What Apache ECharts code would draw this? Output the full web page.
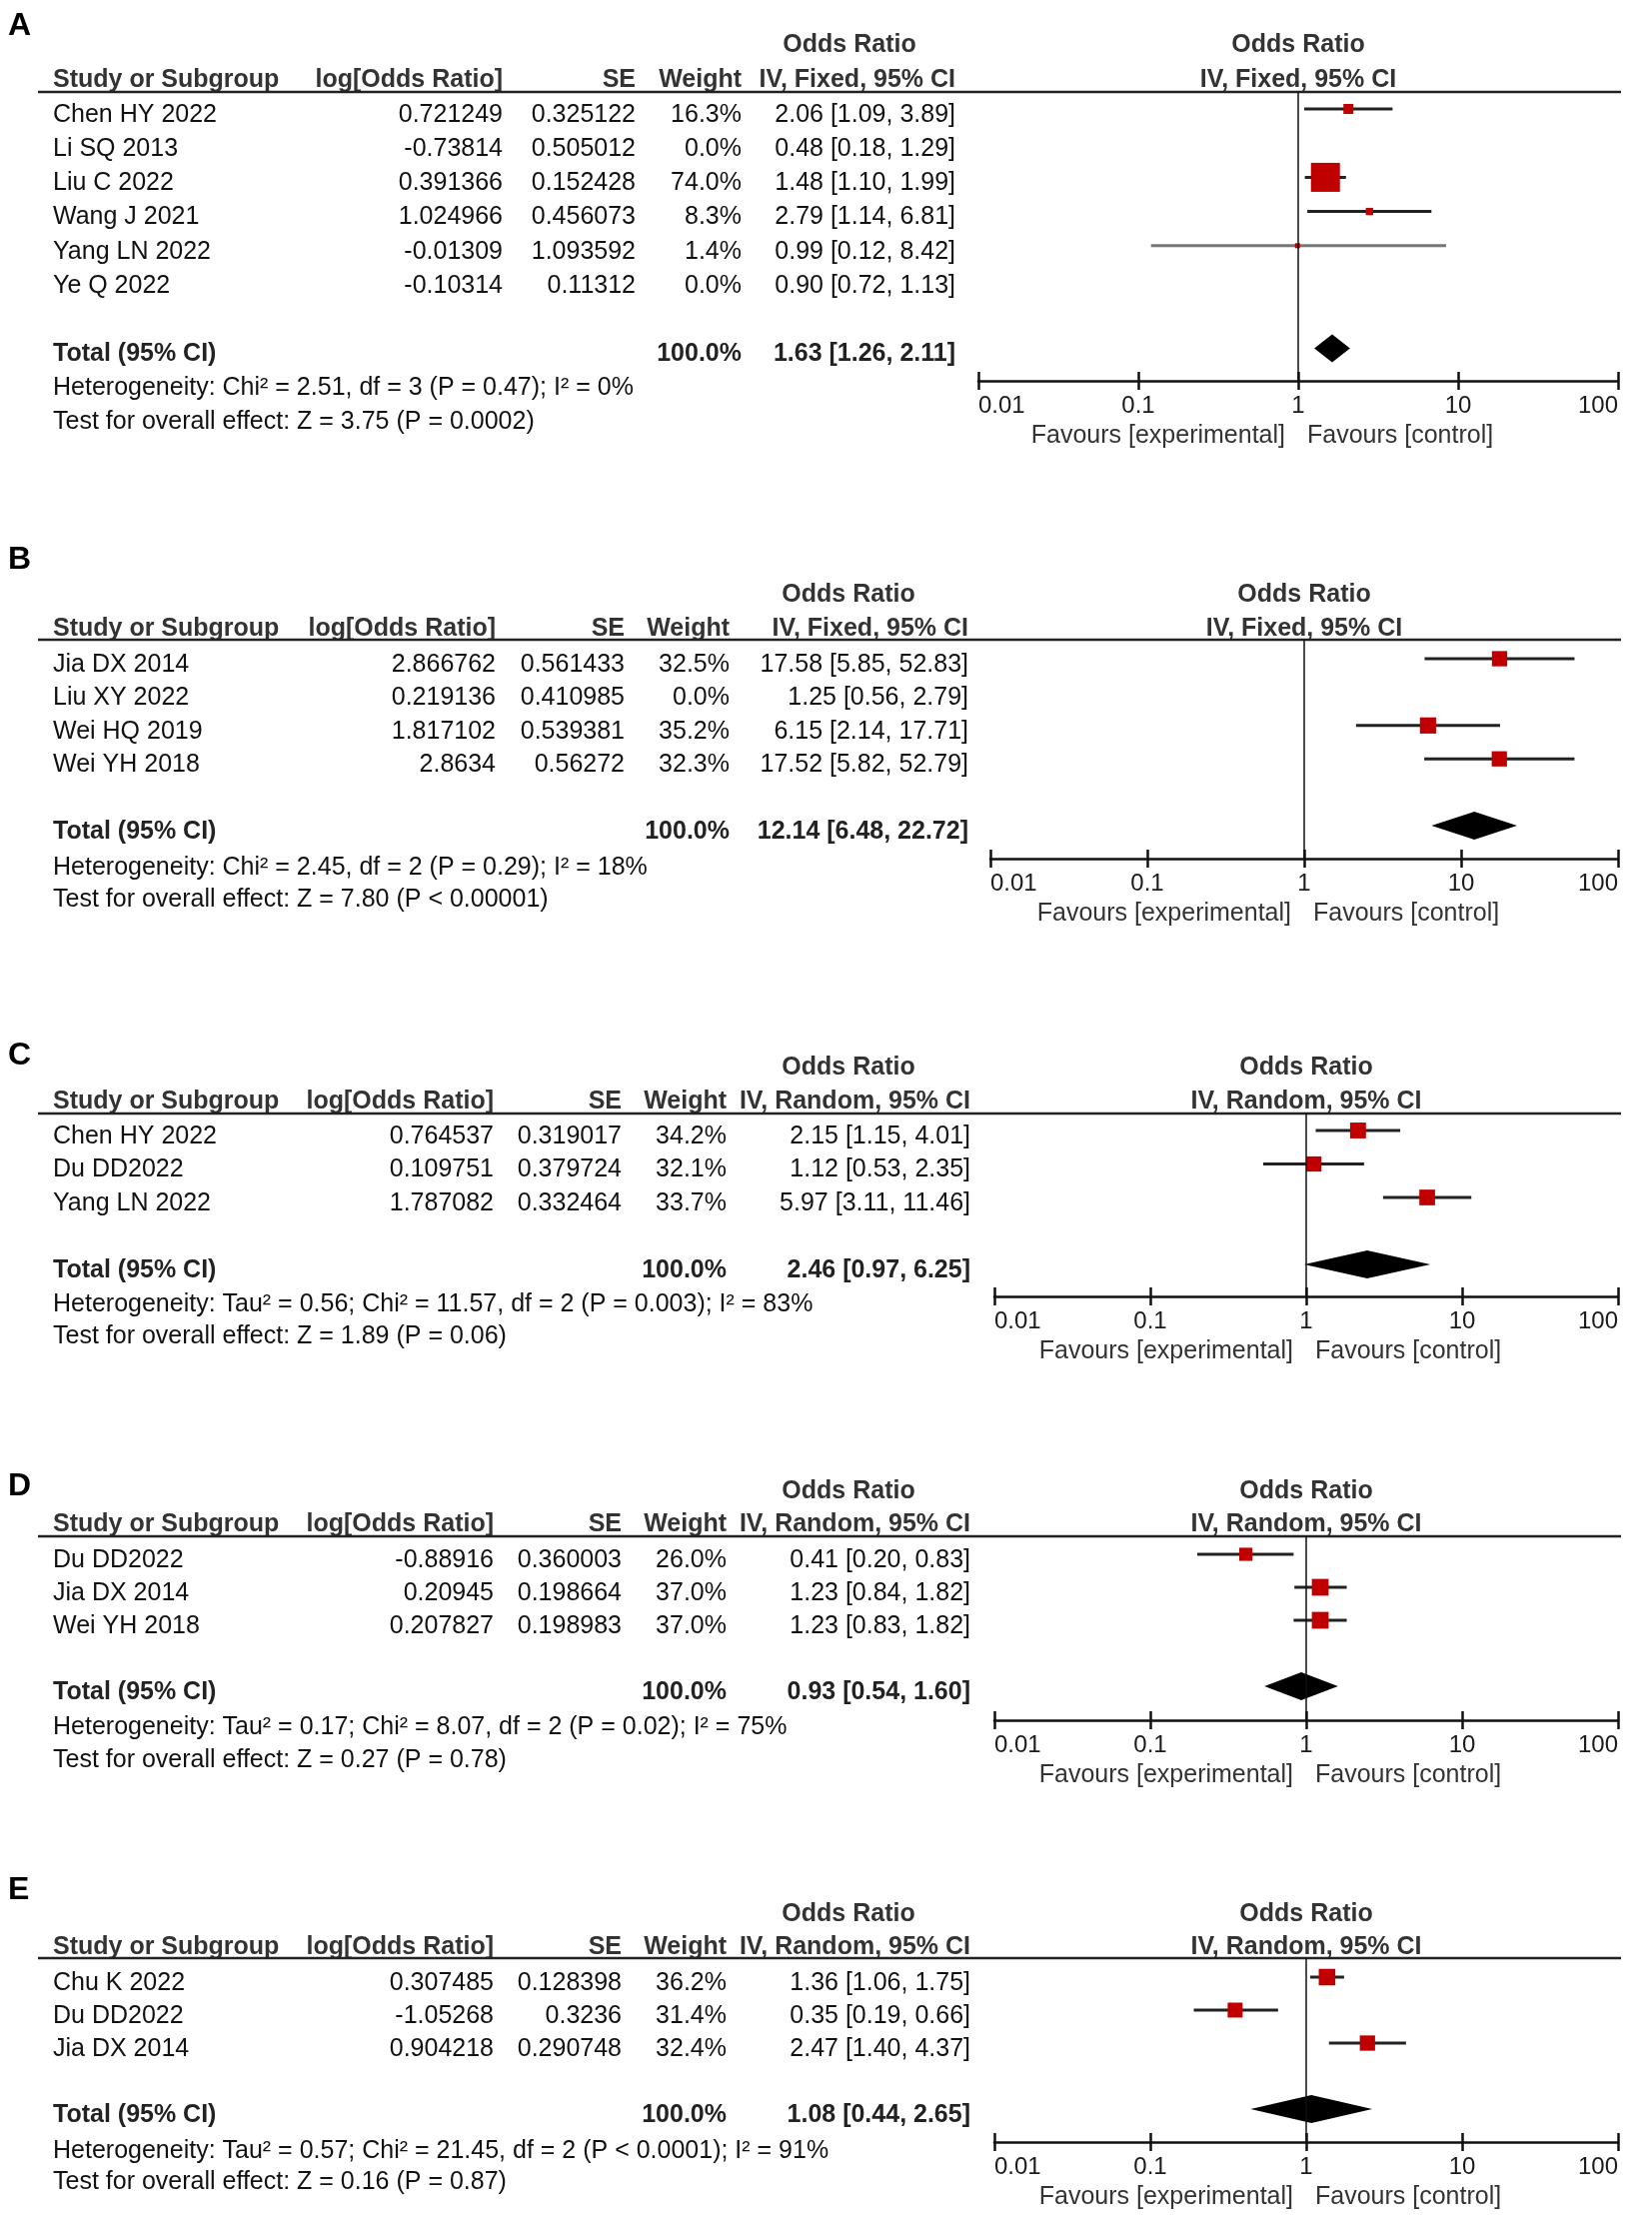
<!DOCTYPE html>
<html><head><meta charset="utf-8">
<script src="https://cdn.jsdelivr.net/npm/echarts/dist/echarts.min.js"></script>
<style>html,body{margin:0;padding:0;background:#fff}#c{width:1653px;height:2229px}</style>
</head><body><div id="c"></div><script>
// ---------------- DATA ----------------
const tickLabels = ['0.01', '0.1', '1', '10', '100'];
const panelLetters = ['A', 'B', 'C', 'D', 'E'];
const methods = ['IV, Fixed, 95% CI', 'IV, Fixed, 95% CI', 'IV, Random, 95% CI', 'IV, Random, 95% CI', 'IV, Random, 95% CI'];

const studiesA = ['Chen HY 2022', 'Li SQ 2013', 'Liu C 2022', 'Wang J 2021', 'Yang LN 2022', 'Ye Q 2022'];
const logOrA = ['0.721249', '-0.73814', '0.391366', '1.024966', '-0.01309', '-0.10314'];
const seA = ['0.325122', '0.505012', '0.152428', '0.456073', '1.093592', '0.11312'];
const weightA = [16.3, 0.0, 74.0, 8.3, 1.4, 0.0];
const orA = [2.06, 0.48, 1.48, 2.79, 0.99, 0.90];
const lowA = [1.09, 0.18, 1.10, 1.14, 0.12, 0.72];
const highA = [3.89, 1.29, 1.99, 6.81, 8.42, 1.13];
const totalA = [1.63, 1.26, 2.11];
const hetA = 'Heterogeneity: Chi\u00b2 = 2.51, df = 3 (P = 0.47); I\u00b2 = 0%';
const testA = 'Test for overall effect: Z = 3.75 (P = 0.0002)';

const studiesB = ['Jia DX 2014', 'Liu XY 2022', 'Wei HQ 2019', 'Wei YH 2018'];
const logOrB = ['2.866762', '0.219136', '1.817102', '2.8634'];
const seB = ['0.561433', '0.410985', '0.539381', '0.56272'];
const weightB = [32.5, 0.0, 35.2, 32.3];
const orB = [17.58, 1.25, 6.15, 17.52];
const lowB = [5.85, 0.56, 2.14, 5.82];
const highB = [52.83, 2.79, 17.71, 52.79];
const totalB = [12.14, 6.48, 22.72];
const hetB = 'Heterogeneity: Chi\u00b2 = 2.45, df = 2 (P = 0.29); I\u00b2 = 18%';
const testB = 'Test for overall effect: Z = 7.80 (P < 0.00001)';

const studiesC = ['Chen HY 2022', 'Du DD2022', 'Yang LN 2022'];
const logOrC = ['0.764537', '0.109751', '1.787082'];
const seC = ['0.319017', '0.379724', '0.332464'];
const weightC = [34.2, 32.1, 33.7];
const orC = [2.15, 1.12, 5.97];
const lowC = [1.15, 0.53, 3.11];
const highC = [4.01, 2.35, 11.46];
const totalC = [2.46, 0.97, 6.25];
const hetC = 'Heterogeneity: Tau\u00b2 = 0.56; Chi\u00b2 = 11.57, df = 2 (P = 0.003); I\u00b2 = 83%';
const testC = 'Test for overall effect: Z = 1.89 (P = 0.06)';

const studiesD = ['Du DD2022', 'Jia DX 2014', 'Wei YH 2018'];
const logOrD = ['-0.88916', '0.20945', '0.207827'];
const seD = ['0.360003', '0.198664', '0.198983'];
const weightD = [26.0, 37.0, 37.0];
const orD = [0.41, 1.23, 1.23];
const lowD = [0.20, 0.84, 0.83];
const highD = [0.83, 1.82, 1.82];
const totalD = [0.93, 0.54, 1.60];
const hetD = 'Heterogeneity: Tau\u00b2 = 0.17; Chi\u00b2 = 8.07, df = 2 (P = 0.02); I\u00b2 = 75%';
const testD = 'Test for overall effect: Z = 0.27 (P = 0.78)';

const studiesE = ['Chu K 2022', 'Du DD2022', 'Jia DX 2014'];
const logOrE = ['0.307485', '-1.05268', '0.904218'];
const seE = ['0.128398', '0.3236', '0.290748'];
const weightE = [36.2, 31.4, 32.4];
const orE = [1.36, 0.35, 2.47];
const lowE = [1.06, 0.19, 1.40];
const highE = [1.75, 0.66, 4.37];
const totalE = [1.08, 0.44, 2.65];
const hetE = 'Heterogeneity: Tau\u00b2 = 0.57; Chi\u00b2 = 21.45, df = 2 (P < 0.0001); I\u00b2 = 91%';
const testE = 'Test for overall effect: Z = 0.16 (P = 0.87)';

// ---------------- LAYOUT (pixels) ----------------
const layout = [
  {letterY: 26,   orY: 45,   hdrY: 80,   lineY: 92,   row0: 115,  step: 34.2, hetY: 388,  testY: 422,  axisY: 381,  ax0: 979, ax1: 1619, cLog: 503, cSe: 636, cW: 742, cCi: 956, orX: 850},
  {letterY: 560,  orY: 595,  hdrY: 629,  lineY: 640,  row0: 665,  step: 33.4, hetY: 868,  testY: 900,  axisY: 859,  ax0: 991, ax1: 1619, cLog: 496, cSe: 625, cW: 730, cCi: 969, orX: 849},
  {letterY: 1056, orY: 1068, hdrY: 1102, lineY: 1114, row0: 1137, step: 33.5, hetY: 1305, testY: 1337, axisY: 1297, ax0: 995, ax1: 1619, cLog: 494, cSe: 622, cW: 727, cCi: 971, orX: 849},
  {letterY: 1487, orY: 1492, hdrY: 1525, lineY: 1537, row0: 1561, step: 33,   hetY: 1728, testY: 1761, axisY: 1721, ax0: 995, ax1: 1619, cLog: 494, cSe: 622, cW: 727, cCi: 971, orX: 849},
  {letterY: 1891, orY: 1915, hdrY: 1948, lineY: 1959, row0: 1984, step: 33,   hetY: 2152, testY: 2183, axisY: 2143, ax0: 995, ax1: 1619, cLog: 494, cSe: 622, cW: 727, cCi: 971, orX: 849}
];

const panels = [
  {studies: studiesA, logOr: logOrA, se: seA, weight: weightA, or: orA, low: lowA, high: highA, total: totalA, het: hetA, test: testA},
  {studies: studiesB, logOr: logOrB, se: seB, weight: weightB, or: orB, low: lowB, high: highB, total: totalB, het: hetB, test: testB},
  {studies: studiesC, logOr: logOrC, se: seC, weight: weightC, or: orC, low: lowC, high: highC, total: totalC, het: hetC, test: testC},
  {studies: studiesD, logOr: logOrD, se: seD, weight: weightD, or: orD, low: lowD, high: highD, total: totalD, het: hetD, test: testD},
  {studies: studiesE, logOr: logOrE, se: seE, weight: weightE, or: orE, low: lowE, high: highE, total: totalE, het: hetE, test: testE}
];

// ---------------- BUILD ----------------
const FONT = '"Liberation Sans", Arial, sans-serif';
const FS = 25;
const MARK_OFFSET = 6; // plot marks sit slightly above the text centre
const fmtCI = (o, l, h) => o.toFixed(2) + ' [' + l.toFixed(2) + ', ' + h.toFixed(2) + ']';

function txt(x, y, text, align, bold, size, fill) {
  return {
    type: 'text', x: x, y: y, silent: true,
    style: {
      text: text, font: (bold ? 'bold ' : '') + (size || FS) + 'px ' + FONT,
      fill: fill || '#111', align: align || 'left', verticalAlign: 'middle',
      textAlign: align || 'left', textVerticalAlign: 'middle'
    }
  };
}

const grids = [], xAxes = [], yAxes = [], series = [], graphics = [];

function renderStudy(params, api) {
  const w = api.value(3);
  if (!(w > 0)) return null;
  const row = api.value(4);
  const pL = api.coord([api.value(1), row]);
  const pH = api.coord([api.value(2), row]);
  const pC = api.coord([api.value(0), row]);
  const s = 4.6 + 0.33 * w;
  return {
    type: 'group', children: [
      {type: 'line', shape: {x1: pL[0], y1: pL[1], x2: pH[0], y2: pH[1]}, style: {stroke: w < 5 ? '#777' : '#222', lineWidth: 3}},
      {type: 'rect', shape: {x: pC[0] - s / 2, y: pC[1] - s / 2, width: s, height: s}, style: {fill: '#c00000'}}
    ]
  };
}
function renderDiamond(params, api) {
  const row = api.value(3);
  const c = api.coord([api.value(0), row]);
  const l = api.coord([api.value(1), row]);
  const r = api.coord([api.value(2), row]);
  const h = 14;
  return {type: 'polygon', shape: {points: [[l[0], c[1]], [c[0], c[1] - h], [r[0], c[1]], [c[0], c[1] + h]]}, style: {fill: '#000'}};
}

panels.forEach((p, i) => {
  const L = layout[i];
  const n = p.studies.length;
  const totalRow = n + 1;
  const markTop = L.row0 - MARK_OFFSET;
  const xOne = (L.ax0 + L.ax1) / 2;
  const gh = L.axisY - L.lineY;

  grids.push({left: L.ax0, top: L.lineY, width: L.ax1 - L.ax0, height: gh, containLabel: false});
  const axisBase = {gridIndex: i, type: 'log', logBase: 10, min: 0.01, max: 100, splitLine: {show: false}};
  // main axis: line, labels, ticks pointing up
  xAxes.push(Object.assign({}, axisBase, {
    position: 'bottom',
    axisLine: {show: true, onZero: false, lineStyle: {color: '#111', width: 2.5}},
    axisTick: {show: true, inside: true, length: 9, lineStyle: {color: '#111', width: 2.5}},
    axisLabel: {show: true, margin: 13, fontSize: 24, fontFamily: FONT, color: '#1a1a1a',
      alignMinLabel: 'left', alignMaxLabel: 'right',
      formatter: v => tickLabels[Math.round(Math.log10(v)) + 2]}
  }));
  // companion axis moved down onto the main axis line: ticks pointing down
  xAxes.push(Object.assign({}, axisBase, {
    position: 'top', offset: -gh,
    axisLine: {show: false},
    axisTick: {show: true, inside: true, length: 9, lineStyle: {color: '#111', width: 2.5}},
    axisLabel: {show: false}
  }));
  yAxes.push({gridIndex: i, type: 'value', inverse: true, show: false,
    min: -(markTop - L.lineY) / L.step, max: (L.axisY - markTop) / L.step});

  const studyData = p.studies.map((s, k) => [p.or[k], p.low[k], p.high[k], p.weight[k], k]);
  series.push({
    type: 'custom', xAxisIndex: 2 * i, yAxisIndex: i, renderItem: renderStudy,
    data: studyData, silent: true, clip: false, z: 3,
    markLine: {symbol: 'none', silent: true, label: {show: false},
      lineStyle: {color: '#111', width: 1.5, type: 'solid'}, data: [{xAxis: 1}]}
  });
  series.push({
    type: 'custom', xAxisIndex: 2 * i, yAxisIndex: i, renderItem: renderDiamond,
    data: [[p.total[0], p.total[1], p.total[2], totalRow]], silent: true, z: 4
  });

  // text table
  graphics.push(txt(8, L.letterY, panelLetters[i], 'left', true, 32, '#000'));
  graphics.push(txt(L.orX, L.orY, 'Odds Ratio', 'center', true, FS, '#333'));
  graphics.push(txt(xOne, L.orY, 'Odds Ratio', 'center', true, FS, '#333'));
  graphics.push(txt(53, L.hdrY, 'Study or Subgroup', 'left', true, FS, '#333'));
  graphics.push(txt(L.cLog, L.hdrY, 'log[Odds Ratio]', 'right', true, FS, '#333'));
  graphics.push(txt(L.cSe, L.hdrY, 'SE', 'right', true, FS, '#333'));
  graphics.push(txt(L.cW, L.hdrY, 'Weight', 'right', true, FS, '#333'));
  graphics.push(txt(L.cCi, L.hdrY, methods[i], 'right', true, FS, '#333'));
  graphics.push(txt(xOne, L.hdrY, methods[i], 'center', true, FS, '#333'));
  graphics.push({type: 'line', silent: true, shape: {x1: 38, y1: L.lineY, x2: 1622, y2: L.lineY},
    style: {stroke: '#222', lineWidth: 2.5}});

  p.studies.forEach((s, k) => {
    const y = L.row0 + k * L.step;
    graphics.push(txt(53, y, s, 'left'));
    graphics.push(txt(L.cLog, y, p.logOr[k], 'right'));
    graphics.push(txt(L.cSe, y, p.se[k], 'right'));
    graphics.push(txt(L.cW, y, p.weight[k].toFixed(1) + '%', 'right'));
    graphics.push(txt(L.cCi, y, fmtCI(p.or[k], p.low[k], p.high[k]), 'right'));
  });
  const ty = L.row0 + totalRow * L.step;
  graphics.push(txt(53, ty, 'Total (95% CI)', 'left', true, FS, '#222'));
  graphics.push(txt(L.cW, ty, '100.0%', 'right', true, FS, '#222'));
  graphics.push(txt(L.cCi, ty, fmtCI(p.total[0], p.total[1], p.total[2]), 'right', true, FS, '#222'));
  graphics.push(txt(53, L.hetY, p.het, 'left'));
  graphics.push(txt(53, L.testY, p.test, 'left'));

  graphics.push(txt(xOne - 13, L.axisY + 55, 'Favours [experimental]', 'right', false, FS, '#333'));
  graphics.push(txt(xOne + 9, L.axisY + 55, 'Favours [control]', 'left', false, FS, '#333'));
});

const chart = echarts.init(document.getElementById('c'), null, {renderer: 'canvas'});
chart.setOption({
  backgroundColor: '#fff',
  animation: false,
  grid: grids, xAxis: xAxes, yAxis: yAxes, series: series,
  graphic: {elements: graphics}
});
</script></body></html>
